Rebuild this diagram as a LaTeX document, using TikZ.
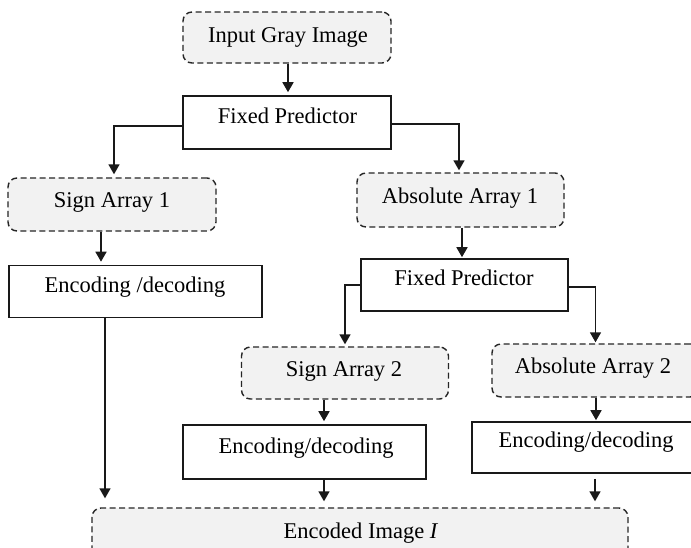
\documentclass[tikz,border=0pt]{standalone}
\usepackage{fontspec}
\setmainfont{Liberation Serif}
\usetikzlibrary{arrows.meta}
\begin{document}
\begin{tikzpicture}[x=1pt,y=-1pt,
  lbl/.style={font=\rmfamily\fontsize{22.5}{26}\selectfont, text=black, anchor=base, inner sep=0pt},
  solidbox/.style={draw=black!90, line width=1.6pt, fill=white, rectangle, inner sep=0pt},
  dashbox/.style={draw=black!85, line width=1.4pt, dash pattern=on 6pt off 3.5pt, rounded corners=9pt, fill=gray!10, inner sep=0pt},
  arr/.style={draw=black!90, line width=1.6pt, -{Triangle[length=10pt,width=11pt]}}]
\path[use as bounding box, clip] (0,0) rectangle (691,547);
\fill[white] (0,0) rectangle (691,547);
% boxes
\node[dashbox, minimum width=208pt, minimum height=51pt] (in) at (287,37.5) {};
\node[solidbox, minimum width=208pt, minimum height=53pt] (fp1) at (287,122.5) {};
\node[dashbox, minimum width=208pt, minimum height=53pt] (sa1) at (112,204.5) {};
\node[dashbox, minimum width=207pt, minimum height=54pt] (abs1) at (460.5,200) {};
\node[solidbox, minimum width=253pt, minimum height=52pt] (enc1) at (135.5,291.5) {};
\node[solidbox, minimum width=207pt, minimum height=52pt] (fp2) at (464.5,285) {};
\node[dashbox, minimum width=207pt, minimum height=52pt] (sa2) at (345,373) {};
\node[dashbox, minimum width=207pt, minimum height=53pt] (abs2) at (595.5,370.5) {};
\node[solidbox, minimum width=243pt, minimum height=54pt] (enc2) at (304.5,452) {};
\node[solidbox, minimum width=243pt, minimum height=51pt] (enc3) at (593.5,447.5) {};
\node[dashbox, minimum width=536pt, minimum height=52pt] (enc) at (360,534) {};
% labels
\node[lbl] (tin) at (288,42) {Input Gray Image};
\node[lbl] (tfp1) at (287.5,123) {Fixed Predictor};
\node[lbl] (tsa1) at (112,207) {Sign Array 1};
\node[lbl] (tabs1) at (460,203) {Absolute Array 1};
\node[lbl] (tenc1) at (135,292) {Encoding /decoding};
\node[lbl] (tfp2) at (464,285) {Fixed Predictor};
\node[lbl] (tsa2) at (344,376) {Sign Array 2};
\node[lbl] (tabs2) at (593,373) {Absolute Array 2};
\node[lbl] (tenc2) at (306,453) {Encoding/decoding};
\node[lbl] (tenc3) at (586,447) {Encoding/decoding};
\node[lbl] (tenc) at (361,538) {Encoded Image \textit{I}};
% connectors
\draw[arr, shorten >=3pt] ([xshift=1pt]in.south) -- ([xshift=1pt]in.south |- fp1.north);
\draw[arr, shorten >=3pt] ([yshift=-3.5pt]fp1.west) -| ([xshift=2pt]sa1.north);
\draw[arr, shorten >=2pt] ([yshift=-1.5pt]fp1.east) -| ([xshift=-1.5pt]abs1.north);
\draw[arr, shorten >=3pt] ([xshift=-11pt]sa1.south) -- ([xshift=-11pt]sa1.south |- enc1.north);
\draw[arr, shorten >=1pt] ([xshift=1.5pt]abs1.south) -- ([xshift=1.5pt]abs1.south |- fp2.north);
\draw[arr, shorten >=2pt] (fp2.west) -| (sa2.north);
\draw[arr, shorten >=1pt] ([yshift=-2pt]fp2.east) -| (abs2.north);
\draw[arr, shorten >=3pt] ([xshift=-21pt]sa2.south) -- ([xshift=-21pt]sa2.south |- enc2.north);
\draw[arr, shorten >=1pt] ([xshift=0.5pt]abs2.south) -- ([xshift=0.5pt]abs2.south |- enc3.north);
\draw[arr, shorten >=9pt] ([xshift=-30.5pt]enc1.south) -- ([xshift=-30.5pt]enc1.south |- enc.north);
\draw[arr, shorten >=6pt] ([xshift=19.5pt]enc2.south) -- ([xshift=19.5pt]enc2.south |- enc.north);
\draw[arr, shorten >=6pt, shorten <=5pt] ([xshift=1.5pt]enc3.south) -- ([xshift=1.5pt]enc3.south |- enc.north);
\end{tikzpicture}
\end{document}
